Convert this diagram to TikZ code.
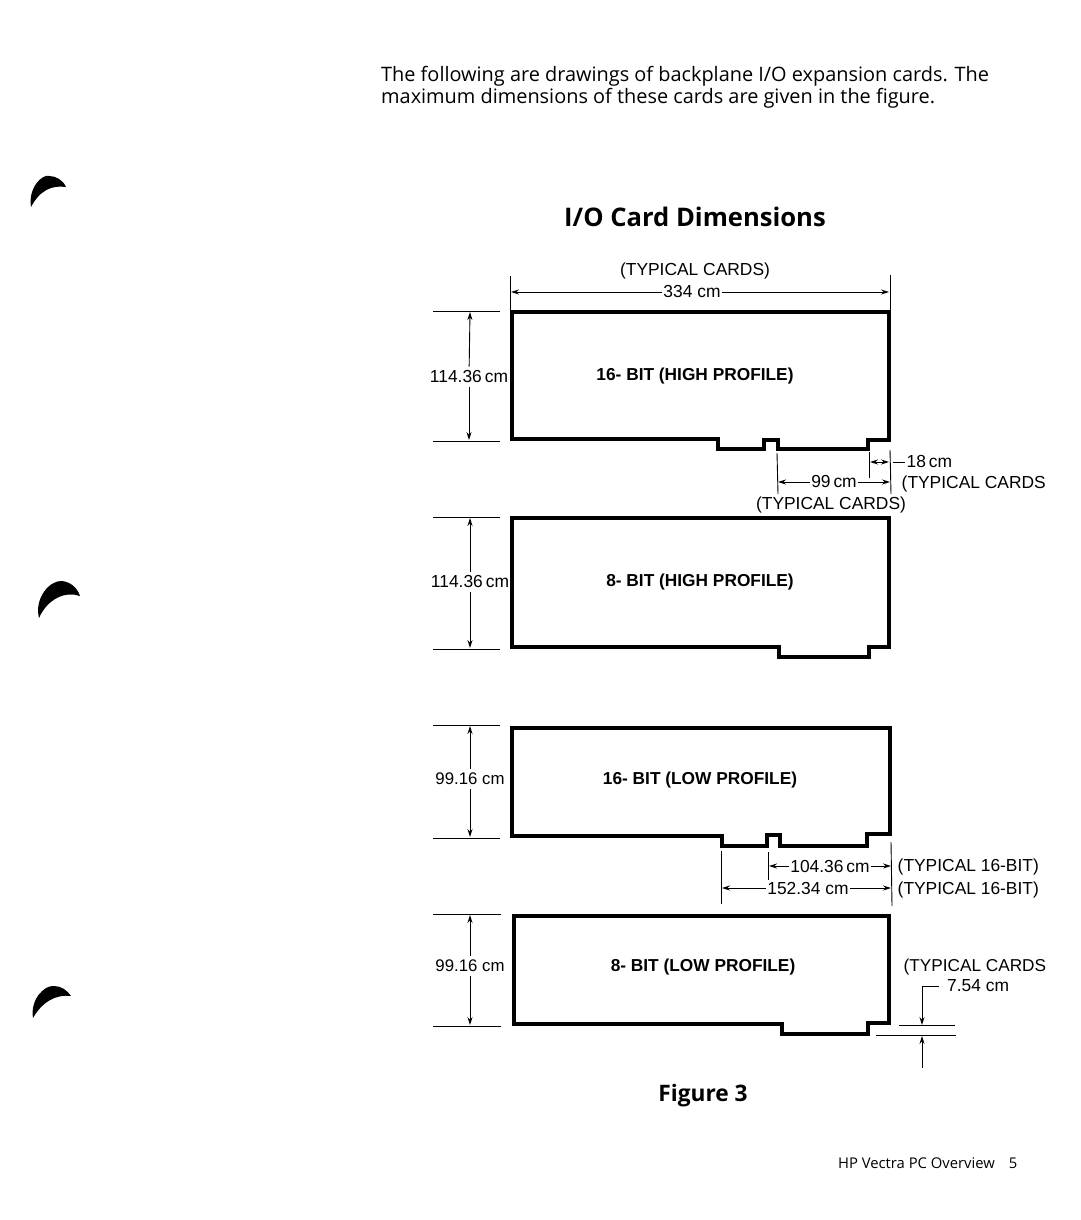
\documentclass[tikz,border=0pt]{standalone}
\usepackage{fontspec}
\setmainfont{Open Sans}
\newfontfamily\labelfont{Liberation Sans}
\usetikzlibrary{arrows.meta}
\tikzset{
  card/.style={color=black, line width=3.5pt, miter limit=10},
  thin line/.style={color=black, line width=0.9pt},
  dim/.style={thin line, -{Stealth[length=8pt,width=5pt]}},
  dimlabel/.style={inner xsep=1.5pt, inner ysep=4pt, font=\labelfont\fontsize{17.4}{20}\selectfont},
  cardlabel/.style={inner sep=0pt, font=\labelfont\bfseries\fontsize{17.3}{20}\selectfont},
  bodytext/.style={inner sep=0pt, anchor=west, font=\fontsize{19.9}{24}\selectfont},
  headtext/.style={inner sep=0pt, font=\bfseries\fontsize{25.6}{30}\selectfont},
  mark blot/.style={fill=black, draw=none}
}
\begin{document}
\begin{tikzpicture}[x=1pt,y=-1pt]
\useasboundingbox (0,0) rectangle (1080,1220);

\node[bodytext] (line1) at (381,76) {The following are drawings of backplane I/O expansion cards. The};
\node[bodytext] (line2) at (381,98) {maximum dimensions of these cards are given in the figure.};
\node[headtext] (title) at (695,217) {I/O Card Dimensions};
\node[headtext, font=\bfseries\fontsize{22.7}{26}\selectfont] (figno) at (703,1096) {Figure 3};
\node[inner sep=0pt, anchor=west, font=\fontsize{14.8}{18}\selectfont] (footer) at (838,1163) {HP Vectra PC Overview\hspace{14pt}5};

% punch marks
\fill[mark blot] (31,207) .. controls (28,188) and (42,174) .. (49,176) .. controls (56,176) and (63,180) .. (66,187) .. controls (52,185) and (40,190) .. (31,207) -- cycle;
\fill[mark blot] (39,618) .. controls (34,598) and (50,580) .. (62,581) .. controls (70,582) and (77,587) .. (80,596) .. controls (66,591) and (48,598) .. (39,618) -- cycle;
\fill[mark blot] (33,1018) .. controls (30,1000) and (44,985) .. (54,986) .. controls (61,986) and (67,990) .. (71,996) .. controls (56,994) and (42,1002) .. (33,1018) -- cycle;

% cards
\draw[card] (512,312) -- (889,312) -- (889,440) -- (868,440) -- (868,449) -- (778,449) -- (778,440) -- (764,440) -- (764,449) -- (718,449) -- (718,439) -- (512,439) -- cycle;
\draw[card] (512,518) -- (889,518) -- (889,647) -- (869,647) -- (869,657) -- (779,657) -- (779,647) -- (512,647) -- cycle;
\draw[card] (512,728) -- (890,728) -- (890,834) -- (867,834) -- (867,846) -- (780,846) -- (780,835) -- (767,835) -- (767,846) -- (722,846) -- (722,836) -- (512,836) -- cycle;
\draw[card] (514,916) -- (889,916) -- (889,1023) -- (868,1023) -- (868,1034) -- (782,1034) -- (782,1024) -- (514,1024) -- cycle;

\node[cardlabel] (hi16) at (695,376) {16- BIT (HIGH PROFILE)};
\node[cardlabel] (hi8) at (700,582) {8- BIT (HIGH PROFILE)};
\node[cardlabel] (lo16) at (700,780) {16- BIT (LOW PROFILE)};
\node[cardlabel] (lo8) at (703,967) {8- BIT (LOW PROFILE)};

% width on top
\draw[thin line] (510,276) -- (510,311);
\draw[thin line] (890,275) -- (890,312);
\node[dimlabel] (typtop) at (695,271) {(TYPICAL CARDS)};
\node[dimlabel] (wtop) at (692,292) {334 cm};
\coordinate (wtopl) at (511,292);
\coordinate (wtopr) at (889,292);
\draw[dim] (wtop) -- (wtopl);
\draw[dim] (wtop) -- (wtopr);

% heights on the left
\draw[thin line] (433,311) -- (500,311);
\draw[thin line] (433,441) -- (500,441);
\node[dimlabel] (ha) at (469,377) {114.36\,cm};
\coordinate (hat) at (470,312);
\coordinate (hab) at (469,440);
\draw[dim] (ha) -- (hat);
\draw[dim] (ha) -- (hab);

\draw[thin line] (433,517) -- (500,517);
\draw[thin line] (433,649) -- (500,649);
\node[dimlabel] (hb) at (470,582) {114.36\,cm};
\coordinate (hbt) at (470,518);
\coordinate (hbb) at (470,648);
\draw[dim] (hb) -- (hbt);
\draw[dim] (hb) -- (hbb);

\draw[thin line] (433,725) -- (500,725);
\draw[thin line] (433,838) -- (500,838);
\node[dimlabel, font=\labelfont\fontsize{16.8}{20}\selectfont] (hc) at (470,779) {99.16 cm};
\coordinate (hct) at (470,726);
\coordinate (hcb) at (470,837);
\draw[dim] (hc) -- (hct);
\draw[dim] (hc) -- (hcb);

\draw[thin line] (433,914) -- (501,914);
\draw[thin line] (433,1026) -- (501,1026);
\node[dimlabel, font=\labelfont\fontsize{16.8}{20}\selectfont] (hd) at (470,966) {99.16 cm};
\coordinate (hdt) at (470,915);
\coordinate (hdb) at (470,1025);
\draw[dim] (hd) -- (hdt);
\draw[dim] (hd) -- (hdb);

% slot dimensions, high profile
\draw[thin line] (777,453) -- (778,494);
\draw[thin line] (890,450) -- (891,494);
\draw[thin line] (869,452) -- (869,478);
\coordinate (sl) at (870,462);
\coordinate (sm) at (880,462);
\coordinate (sr) at (889,462);
\draw[dim] (sm) -- (sl);
\draw[dim] (sm) -- (sr);
\node[dimlabel, anchor=west] (eighteen) at (905,462) {18\,cm};
\coordinate (sdash) at (893,462);
\draw[thin line] (sdash) -- (eighteen);
\node[dimlabel] (nine) at (834,482) {99\,cm};
\coordinate (nl) at (778,482);
\coordinate (nr) at (890,482);
\draw[dim] (nine) -- (nl);
\draw[dim] (nine) -- (nr);
\node[dimlabel, anchor=west] (typa) at (900,484) {(TYPICAL CARDS};
\node[dimlabel] (typb) at (831,505) {(TYPICAL CARDS)};

% slot dimensions, low profile
\draw[thin line] (721,851) -- (721,904);
\draw[thin line] (768,852) -- (768,880);
\draw[thin line] (891,842) -- (892,906);
\node[dimlabel] (lena) at (830,866) {104.36\,cm};
\coordinate (lenal) at (769,866);
\coordinate (lenar) at (891,866);
\draw[dim] (lena) -- (lenal);
\draw[dim] (lena) -- (lenar);
\node[dimlabel] (lenb) at (808,888) {152.34 cm};
\coordinate (lenbl) at (722,888);
\coordinate (lenbr) at (891,888);
\draw[dim] (lenb) -- (lenbl);
\draw[dim] (lenb) -- (lenbr);
\node[dimlabel, anchor=west] (typc) at (896,867) {(TYPICAL 16-BIT)};
\node[dimlabel, anchor=west] (typd) at (896,890) {(TYPICAL 16-BIT)};

% edge thickness
\node[dimlabel, anchor=west, font=\labelfont\fontsize{17.2}{20}\selectfont] (type) at (902,967) {(TYPICAL CARDS};
\node[dimlabel, anchor=west, inner xsep=8pt] (seven) at (939,986) {7.54 cm};
\coordinate (lead) at (922,986);
\coordinate (edgea) at (922,1025);
\coordinate (edgeb) at (922,1036);
\coordinate (edgefoot) at (922,1068);
\draw[thin line] (seven.west) -- (lead);
\draw[dim] (lead) -- (edgea);
\draw[dim] (edgefoot) -- (edgeb);
\draw[thin line] (899,1025) -- (955,1025);
\draw[thin line] (876,1035) -- (956,1035);
\end{tikzpicture}
\end{document}
